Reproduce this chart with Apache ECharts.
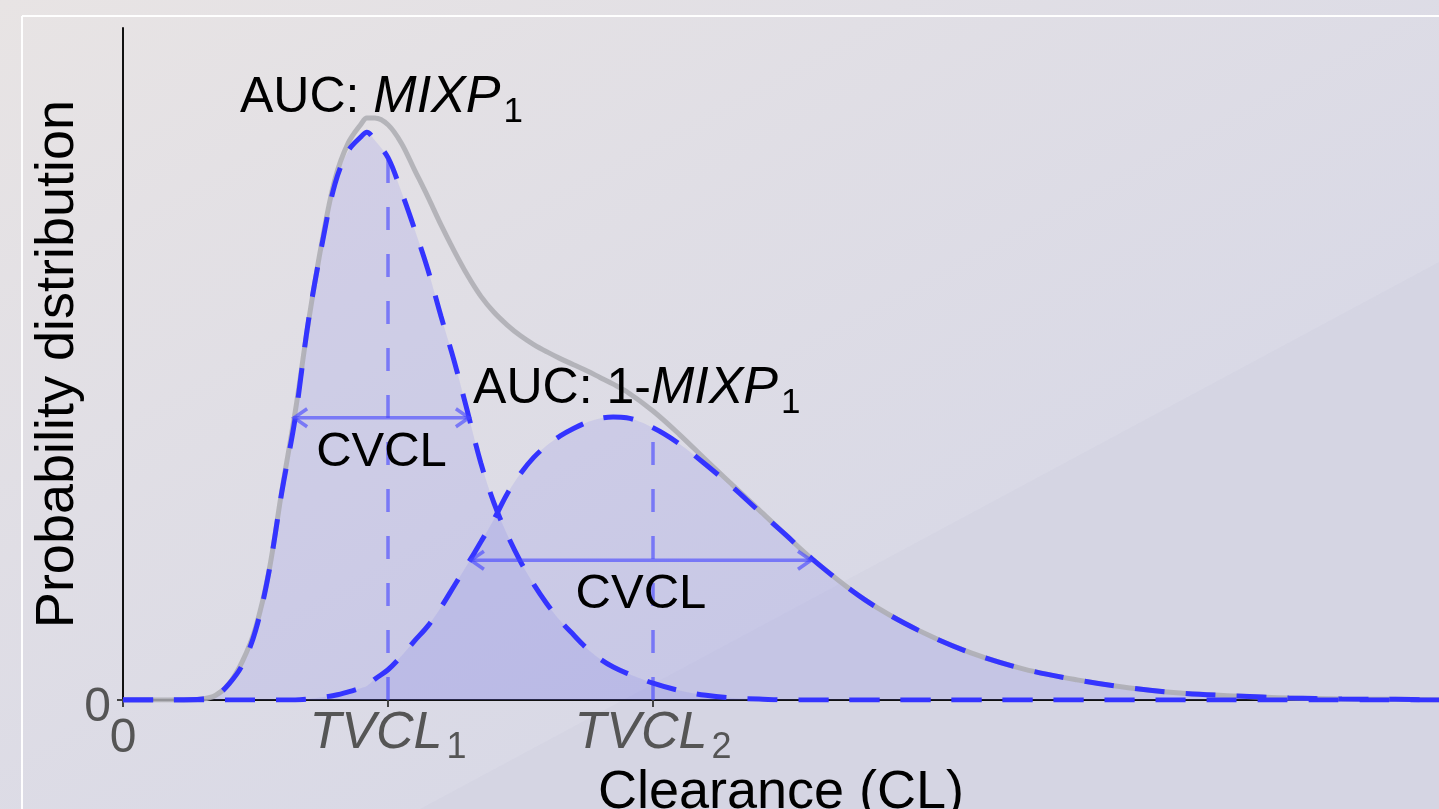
<!DOCTYPE html>
<html>
<head>
<meta charset="utf-8">
<script src="https://cdn.jsdelivr.net/npm/echarts@6/dist/echarts.min.js"></script>
<style>
html,body{margin:0;padding:0;width:1439px;height:809px;overflow:hidden;}
#chart{width:1439px;height:809px;}
</style>
</head>
<body>
<div id="chart"></div>
<script>
// ---------- data ----------
const CL = [0, 0.1, 0.2, 0.3, 0.35, 0.4, 0.45, 0.5, 0.55, 0.6, 0.65, 0.7, 0.75, 0.8, 0.85, 0.9, 0.92, 0.95,
  1.0, 1.05, 1.1, 1.15, 1.2, 1.25, 1.3, 1.35, 1.4, 1.45, 1.5, 1.55, 1.6, 1.65, 1.7, 1.75, 1.8, 1.85, 1.9,
  2.0, 2.1, 2.2, 2.3, 2.4, 2.5, 2.6, 2.8, 3.0, 3.2, 3.4, 3.6, 3.8, 4.0, 4.2, 4.4, 4.6, 4.8, 4.966];
const population1 = [0, 0, 0, 0.0015, 0.006, 0.024, 0.052, 0.103, 0.189, 0.311, 0.420, 0.565, 0.676, 0.768,
  0.817, 0.839, 0.845, 0.833, 0.807, 0.757, 0.701, 0.641, 0.571, 0.504, 0.429, 0.353, 0.293, 0.246, 0.206,
  0.172, 0.143, 0.118, 0.097, 0.077, 0.061, 0.049, 0.040, 0.025, 0.014, 0.007, 0.003, 0.0015,
  0, 0, 0, 0, 0, 0, 0, 0, 0, 0, 0, 0, 0, 0];
const population2 = [0, 0, 0, 0, 0, 0, 0, 0, 0, 0, 0, 0.0015, 0.004, 0.007, 0.012, 0.018, 0.021, 0.031,
  0.045, 0.065, 0.088, 0.110, 0.138, 0.170, 0.202, 0.235, 0.269, 0.307, 0.337, 0.361, 0.379, 0.393, 0.404,
  0.413, 0.419, 0.421, 0.420, 0.405, 0.381, 0.350, 0.317, 0.281, 0.246, 0.210, 0.149, 0.104, 0.070, 0.046,
  0.030, 0.018, 0.010, 0.006, 0.003, 0.0015, 0.001, 0];
const mixture = [0, 0, 0, 0.0015, 0.007, 0.024, 0.057, 0.107, 0.190, 0.313, 0.429, 0.563, 0.680, 0.775,
  0.829, 0.858, 0.866, 0.866, 0.856, 0.829, 0.789, 0.749, 0.707, 0.668, 0.632, 0.601, 0.577, 0.558, 0.542,
  0.529, 0.518, 0.508, 0.499, 0.490, 0.480, 0.470, 0.459, 0.430, 0.395, 0.357, 0.320, 0.283, 0.246, 0.210,
  0.149, 0.104, 0.070, 0.046, 0.030, 0.018, 0.010, 0.006, 0.003, 0.0015, 0.001, 0];

const xTickValues = [0, 1, 2];
const xTickLabels = [['0', ''], ['TVCL', '1'], ['TVCL', '2']];
const yTickValues = [0];
const yTickLabels = ['0'];
const xAxisTitle = 'Clearance (CL)';
const yAxisTitle = 'Probability distribution';

// typical values (medians) of the two populations
const tvclValues = [1, 2];
// CV arrows: start, end, level
const cvclStart = [0.642, 1.309];
const cvclEnd = [1.309, 2.6];
const cvclLevel = [0.420, 0.208];
const cvclLabel = 'CVCL';
// AUC annotations: [prefix, italic, subscript] and anchor
const aucTexts = [['AUC: ', 'MIXP', '1'], ['AUC: 1-', 'MIXP', '1']];
const aucX = [0.4415, 1.321];
const aucY = [0.896, 0.463];

// ---------- chart ----------
const FF = '"Liberation Sans", Arial, Helvetica, sans-serif';
const BLUE = '#3434ff';
const LIGHTBLUE = 'rgba(70,70,255,0.62)';
const FILL = 'rgba(105,105,235,0.21)';

const zip = (ys) => CL.map((x, i) => [x, ys[i]]);

const tvclData = tvclValues.map((v, k) => {
  const idx = CL.indexOf(v);
  return [v, (k === 0 ? population1 : population2)[idx]];
});
const cvclData = cvclStart.map((s, i) => [s, cvclEnd[i], cvclLevel[i]]);
const aucData = aucX.map((x, i) => [x, aucY[i]]);

const chart = echarts.init(document.getElementById('chart'), null, {renderer: 'canvas'});

const option = {
  animation: false,
  backgroundColor: {
    type: 'linear', x: 0, y: 0, x2: 0.3, y2: 1,
    colorStops: [{offset: 0, color: '#e8e4e4'}, {offset: 1, color: '#d9d9e6'}]
  },
  textStyle: {fontFamily: FF},
  graphic: [
    {type: 'polygon', silent: true, z: 0,
      shape: {points: [[420, 809], [1439, 262], [1439, 809]]},
      style: {fill: 'rgba(120,120,175,0.035)'}},
    {type: 'line', silent: true, z: 0, shape: {x1: 22, y1: 16, x2: 1439, y2: 16},
      style: {stroke: 'rgba(255,255,255,0.95)', lineWidth: 2}},
    {type: 'line', silent: true, z: 0, shape: {x1: 22, y1: 16, x2: 22, y2: 809},
      style: {stroke: 'rgba(255,255,255,0.95)', lineWidth: 2}}
  ],
  grid: {left: 123, right: 0, top: 28, bottom: 109, containLabel: false, outerBoundsMode: 'none'},
  xAxis: {
    type: 'value', min: 0, max: 4.966,
    name: xAxisTitle, nameLocation: 'middle', nameGap: 66, nameMoveOverlap: false,
    nameTextStyle: {fontSize: 54, color: '#000', fontFamily: FF},
    axisLine: {onZero: false, lineStyle: {color: '#111', width: 2}},
    axisTick: {show: true, customValues: xTickValues, length: 7, lineStyle: {color: '#444', width: 2}},
    axisLabel: {
      customValues: xTickValues, margin: 1, color: '#555', fontFamily: FF,
      formatter: (v) => {
        const k = xTickValues.indexOf(v);
        if (k < 0) return '';
        const [main, sub] = xTickLabels[k];
        return sub ? '{i|' + main + '}{s|' + sub + '}' : '{z|' + main + '}';
      },
      rich: {
        z: {fontSize: 48, color: '#555', fontFamily: FF, padding: [14, 0, 0, 0]},
        i: {fontSize: 52, color: '#555', fontFamily: FF, fontStyle: 'italic'},
        s: {fontSize: 36, color: '#555', fontFamily: FF, padding: [29, 0, 0, 4]}
      }
    },
    splitLine: {show: false}
  },
  yAxis: {
    type: 'value', min: 0, max: 1,
    name: yAxisTitle, nameLocation: 'middle', nameGap: 38, nameMoveOverlap: false,
    nameTextStyle: {fontSize: 54, color: '#000', fontFamily: FF},
    axisLine: {show: true, onZero: false, lineStyle: {color: '#111', width: 2}},
    axisTick: {show: true, customValues: yTickValues, length: 6, lineStyle: {color: '#444', width: 2}},
    axisLabel: {
      customValues: yTickValues, margin: 12, color: '#555', fontFamily: FF,
      formatter: (v) => { const k = yTickValues.indexOf(v); return k < 0 ? '' : '{z|' + yTickLabels[k] + '}'; },
      rich: {z: {fontSize: 48, color: '#555', fontFamily: FF, padding: [16, 0, 0, 0]}}
    },
    splitLine: {show: false}
  },
  series: [
    {type: 'line', name: 'area1', data: zip(population1), smooth: 0.35, showSymbol: false, silent: true, z: 1,
      lineStyle: {opacity: 0}, areaStyle: {color: FILL}},
    {type: 'line', name: 'area2', data: zip(population2), smooth: 0.35, showSymbol: false, silent: true, z: 1,
      lineStyle: {opacity: 0}, areaStyle: {color: FILL}},
    {type: 'line', name: 'mixture', data: zip(mixture), smooth: 0.35, showSymbol: false, silent: true, z: 2,
      lineStyle: {color: 'rgba(172,172,178,0.85)', width: 5}},
    {type: 'custom', name: 'tvcl', data: tvclData, silent: true, z: 3,
      renderItem: (params, api) => {
        const x = api.value(0), top = api.value(1);
        const p0 = api.coord([x, 0]), p1 = api.coord([x, top]);
        return {type: 'line', shape: {x1: p0[0], y1: p0[1], x2: p1[0], y2: p1[1]},
          style: {stroke: LIGHTBLUE, lineWidth: 3.5, lineDash: [23, 24]}};
      }},
    {type: 'line', name: 'pop1', data: zip(population1), smooth: 0.35, showSymbol: false, silent: true, z: 4,
      lineStyle: {color: BLUE, width: 5, type: [30, 21]}},
    {type: 'line', name: 'pop2', data: zip(population2), smooth: 0.35, showSymbol: false, silent: true, z: 4,
      lineStyle: {color: BLUE, width: 5, type: [30, 21]}},
    {type: 'custom', name: 'cvcl', data: cvclData, silent: true, z: 5,
      renderItem: (params, api) => {
        const x1 = api.value(0), x2 = api.value(1), y = api.value(2);
        const a = api.coord([x1, y]), b = api.coord([x2, y]);
        const m = api.coord([(x1 + x2) / 2, y]);
        return {type: 'group', children: [
          {type: 'line', shape: {x1: a[0], y1: a[1], x2: b[0], y2: b[1]},
            style: {stroke: LIGHTBLUE, lineWidth: 3.5}},
          {type: 'polyline', shape: {points: [[a[0] + 14, a[1] - 9], [a[0] + 1, a[1]], [a[0] + 14, a[1] + 9]]},
            style: {stroke: LIGHTBLUE, lineWidth: 3.5, fill: null}},
          {type: 'polyline', shape: {points: [[b[0] - 14, b[1] - 9], [b[0] - 1, b[1]], [b[0] - 14, b[1] + 9]]},
            style: {stroke: LIGHTBLUE, lineWidth: 3.5, fill: null}},
          {type: 'text', x: m[0], y: a[1] + 10,
            style: {text: cvclLabel, fill: '#000', fontSize: 49, fontFamily: FF, align: 'center', verticalAlign: 'top'}}
        ]};
      }},
    {type: 'custom', name: 'auc', data: aucData, silent: true, z: 5,
      renderItem: (params, api) => {
        const p = api.coord([api.value(0), api.value(1)]);
        const [pre, it, sub] = aucTexts[params.dataIndex];
        return {type: 'text', x: p[0], y: p[1],
          style: {
            text: '{n|' + pre + '}{i|' + it + '}{s|' + sub + '}',
            align: 'left', verticalAlign: 'middle',
            rich: {
              n: {fontSize: 50, fontFamily: FF, fill: '#000'},
              i: {fontSize: 52, fontFamily: FF, fontStyle: 'italic', fill: '#000'},
              s: {fontSize: 35, fontFamily: FF, fill: '#000', padding: [29, 0, 0, 3]}
            }
          }};
      }}
  ]
};
chart.setOption(option);
</script>
</body>
</html>
